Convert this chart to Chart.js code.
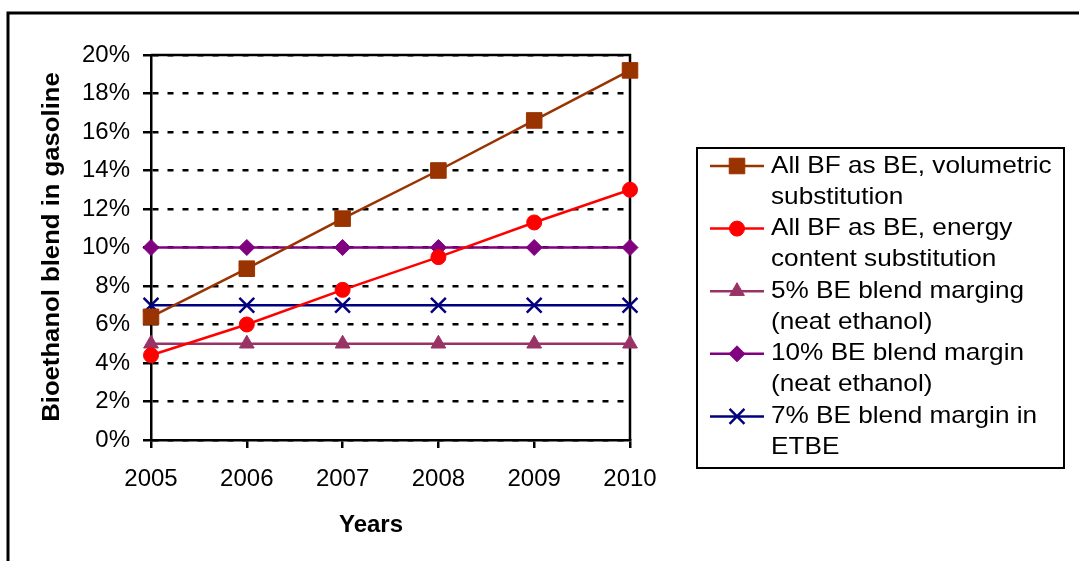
<!DOCTYPE html>
<html>
<head>
<meta charset="utf-8">
<title>Bioethanol blend in gasoline</title>
<script src="https://cdn.jsdelivr.net/npm/chart.js@4/dist/chart.umd.min.js"></script>
<style>
  html, body { margin: 0; padding: 0; background: #fff; }
  #wrap { position: relative; width: 1079px; height: 561px; }
</style>
</head>
<body>
<div id="wrap"><canvas id="blend-chart"></canvas></div>
<script>
  const FONT = "'Liberation Sans', Arial, Helvetica, sans-serif";

  const years = ['2005', '2006', '2007', '2008', '2009', '2010'];
  const volumetricSubst = [6.4, 8.9, 11.5, 14.0, 16.6, 19.2];
  const energySubst = [4.4, 6.0, 7.8, 9.5, 11.3, 13.0];
  const margin5Neat = [5, 5, 5, 5, 5, 5];
  const margin10Neat = [10, 10, 10, 10, 10, 10];
  const margin7Etbe = [7, 7, 7, 7, 7, 7];

  const yMin = 0;
  const yMax = 20;
  const yStep = 2;

  const legendLines = [
    ['All BF as BE, volumetric', 'substitution'],
    ['All BF as BE, energy', 'content substitution'],
    ['5% BE blend marging', '(neat ethanol)'],
    ['10% BE blend margin', '(neat ethanol)'],
    ['7% BE blend margin in', 'ETBE'],
  ];

  const xTitle = 'Years';
  const yTitle = 'Bioethanol blend in gasoline';

  function series(label, data, color, pointStyle, radius, pointBorderWidth) {
    return {
      label,
      data,
      borderColor: color,
      backgroundColor: color,
      borderWidth: 2.5,
      pointStyle,
      pointRadius: radius,
      pointHoverRadius: radius,
      pointBackgroundColor: color,
      pointBorderColor: color,
      pointBorderWidth: pointBorderWidth,
      tension: 0,
      clip: false,
    };
  }

  const datasets = [
    series(legendLines[0].join(' '), volumetricSubst, '#993300', 'rect', 11, 1),
    series(legendLines[1].join(' '), energySubst, '#ff0000', 'circle', 7.5, 1),
    series(legendLines[2].join(' '), margin5Neat, '#993366', 'triangle', 8.5, 1),
    series(legendLines[3].join(' '), margin10Neat, '#800080', 'rectRot', 8, 1),
    series(legendLines[4].join(' '), margin7Etbe, '#000080', 'crossRot', 10.5, 2.5),
  ];

  // frame, plot box, axis titles and the two-line legend
  const decorations = {
    id: 'decorations',
    beforeDraw(chart) {
      const ctx = chart.ctx;
      ctx.save();
      ctx.fillStyle = '#fff';
      ctx.fillRect(0, 0, chart.width, chart.height);
      ctx.strokeStyle = '#000';
      ctx.lineWidth = 3;
      ctx.beginPath();
      ctx.moveTo(8, chart.height);
      ctx.lineTo(8, 13);
      ctx.lineTo(chart.width, 13);
      ctx.stroke();
      ctx.restore();
    },
    beforeDatasetsDraw(chart) {
      const { ctx, chartArea } = chart;
      ctx.save();
      ctx.strokeStyle = '#000';
      ctx.lineWidth = 2.5;
      ctx.beginPath();
      ctx.moveTo(chartArea.left, chartArea.top);
      ctx.lineTo(chartArea.right, chartArea.top);
      ctx.lineTo(chartArea.right, chartArea.bottom);
      ctx.stroke();
      ctx.restore();
    },
    afterDraw(chart) {
      const ctx = chart.ctx;
      ctx.save();
      ctx.fillStyle = '#000';
      ctx.textAlign = 'center';
      ctx.textBaseline = 'middle';

      ctx.font = `bold 24px ${FONT}`;
      ctx.fillText(xTitle, 371, 525);

      ctx.save();
      ctx.translate(52, 247);
      ctx.rotate(-Math.PI / 2);
      ctx.scale(1.07, 1);
      ctx.fillText(yTitle, 0, 0);
      ctx.restore();

      // legend box
      ctx.lineWidth = 2;
      ctx.strokeStyle = '#000';
      ctx.strokeRect(697, 148, 367, 320);

      ctx.font = `24px ${FONT}`;
      ctx.textAlign = 'left';
      chart.data.datasets.forEach((ds, i) => {
        const y = 166 + i * 62.6;
        ctx.strokeStyle = ds.borderColor;
        ctx.fillStyle = ds.backgroundColor;
        ctx.lineWidth = 2.5;
        ctx.beginPath();
        ctx.moveTo(710, y);
        ctx.lineTo(764, y);
        ctx.stroke();
        ctx.lineWidth = ds.pointBorderWidth;
        Chart.helpers.drawPoint(ctx, {
          pointStyle: ds.pointStyle,
          radius: ds.pointRadius,
          borderWidth: ds.pointBorderWidth,
          rotation: 0,
        }, 737, y);

        ctx.fillStyle = '#000';
        legendLines[i].forEach((line, j) => {
          ctx.save();
          ctx.translate(771, y + j * 31);
          ctx.scale(1.09, 1);
          ctx.fillText(line, 0, 0);
          ctx.restore();
        });
      });
      ctx.restore();
    },
  };

  new Chart(document.getElementById('blend-chart'), {
    type: 'line',
    data: { labels: years, datasets },
    options: {
      responsive: true,
      maintainAspectRatio: false,
      animation: false,
      layout: { padding: { top: 55, right: 449, bottom: 0, left: 0 } },
      plugins: {
        legend: { display: false },
        tooltip: { enabled: false },
      },
      scales: {
        x: {
          offset: false,
          ticks: {
            color: '#000',
            padding: 17,
            maxRotation: 0,
            autoSkip: false,
            font: { size: 24, family: FONT },
          },
          grid: {
            drawOnChartArea: false,
            drawTicks: true,
            tickLength: 8,
            color: '#000',
            lineWidth: 2.5,
          },
          border: { color: '#000', width: 2.5 },
          afterFit(scale) { scale.height = 121; },
        },
        y: {
          min: yMin,
          max: yMax,
          ticks: {
            stepSize: yStep,
            color: '#000',
            padding: 13,
            font: { size: 24, family: FONT },
            callback: (v) => `${v}%`,
          },
          grid: {
            color: '#000',
            lineWidth: 2.5,
            tickLength: 8,
            tickColor: '#000',
            tickWidth: 2.5,
            tickBorderDash: [],
          },
          border: { color: '#000', width: 2.5, dash: [6, 9] },
          afterFit(scale) { scale.width = 151; },
        },
      },
    },
    plugins: [decorations],
  });
</script>
</body>
</html>
